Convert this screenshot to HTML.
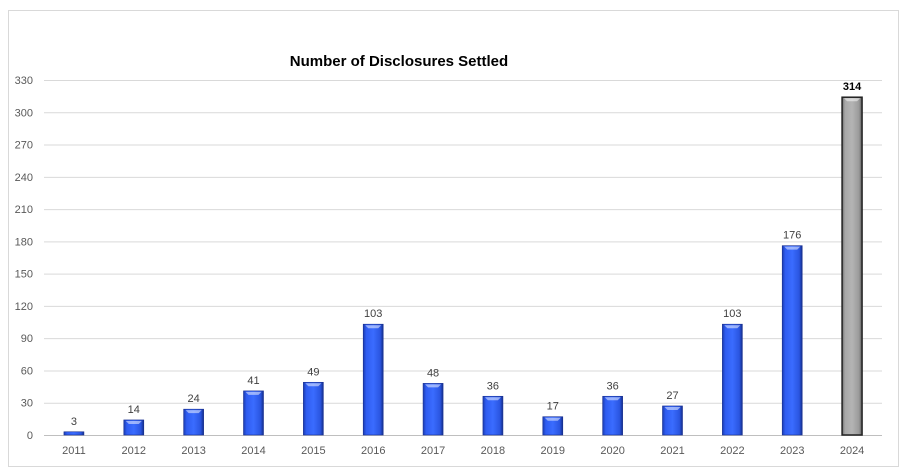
<!DOCTYPE html>
<html><head><meta charset="utf-8"><style>
body{margin:0;background:#fff;font-family:"Liberation Sans",sans-serif}
svg{display:block}
</style></head><body>
<svg id="chart" width="910" height="475">
<defs>
<linearGradient id="gb" x1="0" x2="1" y1="0" y2="0">
<stop offset="0" stop-color="#1a3cb0"/><stop offset="0.15" stop-color="#2f5cf0"/><stop offset="0.5" stop-color="#3a6cff"/><stop offset="0.85" stop-color="#2a55e0"/><stop offset="1" stop-color="#142e8a"/>
</linearGradient>
<linearGradient id="gg" x1="0" x2="1" y1="0" y2="0">
<stop offset="0" stop-color="#6e6e6e"/><stop offset="0.15" stop-color="#a8a8a8"/><stop offset="0.5" stop-color="#b4b4b4"/><stop offset="0.85" stop-color="#9a9a9a"/><stop offset="1" stop-color="#5a5a5a"/>
</linearGradient>
</defs>
<rect x="8.5" y="10.5" width="890" height="456" fill="#fff" stroke="#d9d9d9"/>
<text x="399" y="66" text-anchor="middle" font-size="15" font-weight="bold" fill="#000">Number of Disclosures Settled</text>
<g id="grid"></g><g id="bars"></g><g id="labels"></g>
</svg>
<script>
const categories=["2011","2012","2013","2014","2015","2016","2017","2018","2019","2020","2021","2022","2023","2024"];
const values=[3,14,24,41,49,103,48,36,17,36,27,103,176,314];
const yTicks=[0,30,60,90,120,150,180,210,240,270,300,330];
const ns="http://www.w3.org/2000/svg";
const x0=44,x1=882,y0=435,yTop=80,yMax=330;
const band=(x1-x0)/categories.length;
const yS=v=>y0-(v/yMax)*(y0-yTop);
const xC=i=>x0+band*(i+0.5);
function mk(t,a,p){const e=document.createElementNS(ns,t);for(const k in a)e.setAttribute(k,a[k]);p.appendChild(e);return e;}
const grid=document.getElementById('grid'),bars=document.getElementById('bars'),labels=document.getElementById('labels');
yTicks.forEach(v=>{
 const l=mk('line',{x1:x0,x2:x1,y1:yS(v)+0.5,y2:yS(v)+0.5,stroke:v===0?'#bfbfbf':'#d9d9d9'},grid);
 
 
 const t=mk('text',{x:33,y:yS(v)+4,'text-anchor':'end','font-size':11,fill:'#595959'},grid);
 t.textContent=v;
 
 
});
const bw=20;
categories.forEach((c,i)=>{
 const v=values[i],cx=xC(i),last=i===categories.length-1;
 const r=mk('rect',{x:cx-bw/2,y:yS(v),width:bw,height:y0-yS(v),fill:last?'url(#gg)':'url(#gb)',stroke:last?'#222':'#1a3090','stroke-width':last?1.5:0.6},bars);
 
 
 if(y0-yS(v)>6){const h=mk('path',{d:`M${cx-bw/2+2} ${yS(v)+1}L${cx+bw/2-2} ${yS(v)+1}L${cx+bw/2-5} ${yS(v)+4}L${cx-bw/2+5} ${yS(v)+4}Z`,fill:'#fff',opacity:0.5},bars);
 
 }
 const t=mk('text',{x:cx,y:yS(v)-7,'text-anchor':'middle','font-size':11,fill:last?'#000':'#404040','font-weight':last?'bold':'normal'},labels);
 t.textContent=v;
 
 
 const xl=mk('text',{x:cx,y:454,'text-anchor':'middle','font-size':11,fill:'#595959'},labels);
 xl.textContent=c;
 
 
});
</script>
</body></html>
